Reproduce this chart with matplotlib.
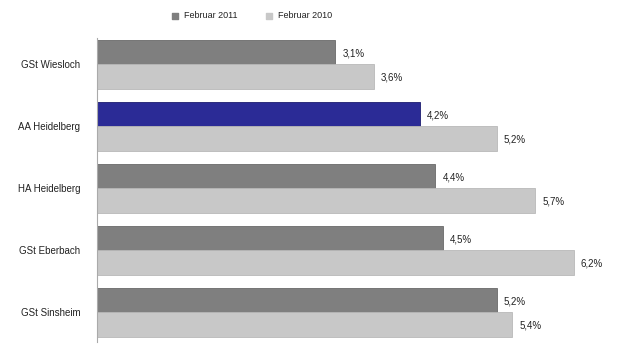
import matplotlib.pyplot as plt
import numpy as np

# data
categories = ["GSt Wiesloch", "AA Heidelberg", "HA Heidelberg", "GSt Eberbach", "GSt Sinsheim"]
feb_2011 = [3.1, 4.2, 4.4, 4.5, 5.2]
feb_2010 = [3.6, 5.2, 5.7, 6.2, 5.4]
series_names = ["Februar 2011", "Februar 2010"]
highlight = "AA Heidelberg"

plt.rcParams['font.family'] = ['Liberation Sans', 'DejaVu Sans']

fig = plt.figure(figsize=(6.22, 3.5), dpi=100)
ax = fig.add_axes([97 / 622, 8 / 350, 500 / 622, 304 / 350])

y = np.arange(len(categories))
h = 0.395
dark_cols = ['#2b2b96' if c == highlight else '#7f7f7f' for c in categories]
dark_edges = ['#1c1c70' if c == highlight else '#6a6a6a' for c in categories]

b1 = ax.barh(y - h / 2, feb_2011, height=h, color=dark_cols, edgecolor=dark_edges, linewidth=0.6)
b2 = ax.barh(y + h / 2, feb_2010, height=h, color='#c8c8c8', edgecolor='#b8b8b8', linewidth=0.6)

for bars, vals in [(b1, feb_2011), (b2, feb_2010)]:
    for bar, v in zip(bars, vals):
        ax.text(v + 0.09, bar.get_y() + bar.get_height() / 2 + 0.02, f"{v:.1f}%".replace('.', ','),
                va='center', ha='left', fontsize=7, color='#222222')

ax.set_xlim(0, 6.5)
ax.set_ylim(4.48, -0.42)
ax.set_yticks(y)
ax.set_yticklabels(categories, fontsize=7, color='#222222')
ax.tick_params(axis='y', length=0, pad=12)
ax.set_xticks([])
for s in ['top', 'right', 'bottom']:
    ax.spines[s].set_visible(False)
ax.spines['left'].set_color('#aaaaaa')
ax.spines['left'].set_linewidth(0.8)

# legend at top
leg_ax = fig.add_axes([0, 0, 1, 1], facecolor='none')
leg_ax.set_xlim(0, 622)
leg_ax.set_ylim(350, 0)
leg_ax.axis('off')
leg_ax.scatter([175, 269], [16, 16], marker='s', s=14, c=['#7f7f7f', '#c8c8c8'])
leg_ax.text(184, 16, series_names[0], fontsize=6.5, va='center', ha='left', color='#222222')
leg_ax.text(278, 16, series_names[1], fontsize=6.5, va='center', ha='left', color='#222222')

fig.savefig("out.png", dpi=100)
